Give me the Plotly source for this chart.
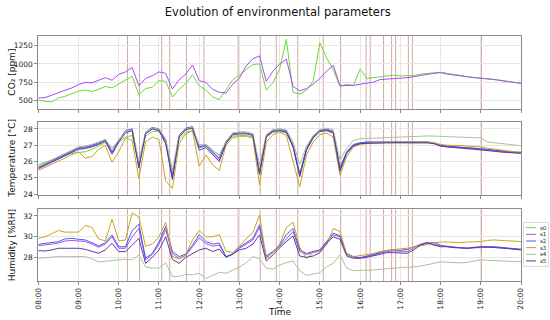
import plotly.graph_objects as go
import pandas as pd

# ---------------- data ----------------
day = "2023-01-01 "
times = pd.date_range(day + "08:00", day + "20:00", freq="10min")

series_names = ["s0", "s1", "s2", "s3", "s4", "s5"]
series_colors = ["#6bd93a", "#a64df0", "#4a5ce6", "#c8a41e", "#a9c29c", "#5a3a9e"]

co2_s0 = [505, 485, 478, 530, 555, 590, 625, 640, 620, 650,
          690, 670, 720, 780, 830, 575, 660, 680, 770, 760,
          545, 650, 730, 850, 700, 640, 545, 510, 640, 780,
          850, 925, 990, 1000, 640, 740, 930, 1340, 610, 585,
          640, 760, 1290, 1080, 920, 690, 720, 700, 930, 800,
          810, 820, 840, 845, 835, 835, 840, 860, 870, 880,
          885, 870, 852, 838, 825, 815, 806, 798, 788, 775,
          760, 745, 733]
co2_s1 = [530, 537, 570, 600, 630, 670, 715, 745, 740, 770,
          810, 775, 855, 890, 950, 700, 800, 835, 890, 870,
          655, 780, 860, 985, 770, 745, 650, 610, 600, 720,
          805, 970, 1070, 1110, 760, 900, 1000, 1065, 690, 630,
          660, 720, 800, 900, 980, 700, 700, 705, 720, 740,
          750, 785, 790, 802, 802, 810, 824, 835, 855, 870,
          880, 860, 845, 830, 818, 810, 802, 795, 785, 770,
          755, 740, 732]

temp_s0 = [25.8, 25.95, 26.1, 26.25, 26.4, 26.5, 26.55, 26.6, 26.75, 26.95,
           27.15, 26.85, 27.15, 27.5, 27.6, 25.85, 27.55, 27.85, 27.85, 27.2,
           25.25, 27.35, 27.8, 27.9, 27.0, 27.05, 26.7, 26.35, 27.2, 27.55,
           27.6, 27.6, 27.5, 25.45, 27.5, 27.8, 27.85, 27.75, 26.9, 25.3,
           26.7, 27.45, 27.85, 27.9, 27.75, 25.7, 26.55, 27.0, 27.12, 27.15,
           27.15, 27.15, 27.15, 27.15, 27.15, 27.15, 27.15, 27.15, 27.15, 27.1,
           26.98, 26.92, 26.9, 26.88, 26.85, 26.82, 26.78, 26.72, 26.68, 26.62,
           26.58, 26.56, 26.55]
temp_s1 = [25.6, 25.8, 26.0, 26.2, 26.4, 26.6, 26.8, 26.85, 26.95, 27.1,
           27.3, 26.55, 27.3, 27.9, 28.0, 25.75, 27.75, 28.05, 27.95, 27.25,
           25.05, 27.55, 28.0, 28.1, 26.85, 26.95, 26.55, 26.1, 27.15, 27.7,
           27.75, 27.75, 27.65, 25.25, 27.55, 27.9, 27.95, 27.85, 26.95, 25.15,
           26.75, 27.5, 27.9, 27.95, 27.8, 25.5, 26.55, 27.0, 27.12, 27.18,
           27.18, 27.18, 27.18, 27.18, 27.18, 27.18, 27.18, 27.18, 27.18, 27.12,
           26.95, 26.9, 26.88, 26.85, 26.82, 26.8, 26.75, 26.7, 26.65, 26.6,
           26.57, 26.55, 26.53]
temp_s2 = [25.65, 25.85, 26.05, 26.25, 26.45, 26.65, 26.85, 26.9, 27.0, 27.15,
           27.35, 26.6, 27.3, 27.85, 28.0, 25.7, 27.8, 28.1, 28.0, 27.3,
           25.0, 27.6, 28.05, 28.15, 26.9, 27.0, 26.6, 26.2, 27.2, 27.75,
           27.8, 27.8, 27.7, 25.3, 27.6, 27.95, 28.0, 27.9, 27.0, 25.2,
           26.8, 27.55, 27.95, 28.0, 27.85, 25.6, 26.6, 27.05, 27.15, 27.2,
           27.2, 27.2, 27.2, 27.2, 27.2, 27.2, 27.2, 27.2, 27.2, 27.15,
           27.0, 26.95, 26.92, 26.9, 26.88, 26.85, 26.8, 26.75, 26.7, 26.65,
           26.6, 26.58, 26.55]
temp_s3 = [25.45, 25.65, 25.85, 26.05, 26.25, 26.45, 26.6, 26.2, 26.3, 26.75,
           27.0, 25.95, 26.6, 27.45, 27.3, 24.95, 27.2, 27.5, 27.35, 24.8,
           24.35, 27.1, 27.7, 27.9, 25.7, 26.4, 25.8, 25.45, 27.0, 27.45,
           27.55, 27.55, 27.45, 24.55, 27.2, 27.65, 27.8, 27.6, 26.0, 24.45,
           26.4, 27.2, 27.65, 27.75, 27.5, 25.15, 26.3, 26.9, 27.05, 27.1,
           27.15, 27.15, 27.15, 27.18, 27.2, 27.2, 27.22, 27.22, 27.2, 27.15,
           27.05, 27.0, 27.0, 26.98, 26.95, 26.92, 26.9, 26.82, 26.75, 26.7,
           26.65, 26.6, 26.58]
temp_s4 = [25.7, 25.9, 26.1, 26.3, 26.5, 26.7, 26.9, 26.95, 27.05, 27.2,
           27.35, 26.8, 27.35, 27.85, 27.95, 26.0, 27.8, 28.05, 28.0, 27.4,
           25.5, 27.6, 28.0, 28.1, 27.0, 27.05, 26.7, 26.4, 27.25, 27.75,
           27.8, 27.8, 27.7, 25.8, 27.65, 27.95, 28.0, 27.95, 27.2, 25.8,
           26.95, 27.6, 27.95, 28.05, 27.95, 26.1, 26.8, 27.3, 27.4, 27.42,
           27.45, 27.47, 27.48, 27.5, 27.5, 27.52, 27.55, 27.57, 27.57, 27.56,
           27.55, 27.53, 27.52, 27.5, 27.5, 27.48, 27.45, 27.2, 27.15, 27.1,
           27.05, 27.0, 26.97]
temp_s5 = [25.55, 25.75, 25.95, 26.15, 26.35, 26.55, 26.75, 26.8, 26.9, 27.05,
           27.25, 26.45, 27.2, 27.75, 27.9, 25.6, 27.7, 28.0, 27.9, 27.1,
           24.9, 27.5, 27.95, 28.05, 26.7, 26.85, 26.45, 26.0, 27.1, 27.65,
           27.7, 27.7, 27.6, 25.2, 27.5, 27.85, 27.9, 27.8, 26.9, 25.07,
           26.7, 27.45, 27.85, 27.9, 27.75, 25.4, 26.5, 26.95, 27.1, 27.12,
           27.15, 27.15, 27.15, 27.15, 27.15, 27.15, 27.15, 27.15, 27.15, 27.1,
           26.95, 26.9, 26.85, 26.8, 26.78, 26.75, 26.72, 26.68, 26.63, 26.58,
           26.54, 26.52, 26.5]

hum_s1 = [29.15, 29.2, 29.3, 29.4, 29.6, 29.65, 29.6, 29.55, 29.3, 29.0,
          29.3, 30.0, 28.9, 28.9, 30.0, 30.8, 27.8, 28.3, 29.3, 30.7,
          28.4, 27.9, 28.2, 29.0, 29.9, 29.35, 29.1, 29.2, 28.1, 28.3,
          28.9, 29.3, 29.7, 30.9, 28.0, 28.5, 29.1, 29.8, 30.5, 28.6,
          28.3, 28.5, 28.7, 29.5, 30.2, 30.0, 28.3, 28.05, 28.0, 28.1,
          28.25, 28.4, 28.6, 28.65, 28.6, 28.6, 28.9, 29.3, 29.45, 29.3,
          29.1, 29.1, 29.0, 28.95, 28.92, 28.95, 29.0, 29.0, 29.0, 28.95,
          28.9, 28.85, 28.8]
hum_s2 = [29.28, 29.38, 29.44, 29.54, 29.8, 29.85, 29.76, 29.7, 29.44, 29.12,
          29.44, 30.18, 29.05, 29.05, 30.6, 31.2, 27.95, 28.4, 29.5, 31.0,
          28.6, 28.1, 28.35, 29.2, 30.2, 29.55, 29.3, 29.4, 28.1, 28.35,
          29.0, 29.4, 29.85, 31.15, 28.15, 28.6, 29.2, 30.2, 30.8, 28.75,
          28.4, 28.6, 28.75, 29.55, 30.35, 30.1, 28.4, 28.1, 28.0, 28.15,
          28.3, 28.5, 28.7, 28.75, 28.7, 28.8, 29.05, 29.2, 29.38, 29.45,
          29.2, 29.05, 29.0, 28.9, 28.9, 29.0, 29.05, 29.05, 29.05, 29.0,
          28.93, 28.87, 28.8]
hum_s3 = [29.85, 30.0, 30.3, 30.6, 30.45, 30.45, 30.45, 31.1, 30.9, 29.8,
          29.6, 31.7, 29.6, 29.7, 32.3, 31.9, 29.1, 29.3, 30.0, 31.4,
          28.1, 27.9, 28.3, 29.7, 30.6, 30.0, 30.0, 30.2, 28.6, 28.5,
          29.1, 29.8, 30.4, 32.1, 27.9, 28.5, 29.3, 30.9, 31.4, 29.0,
          27.9, 28.5, 28.6, 29.2, 30.8, 30.5, 28.3, 28.1, 28.2, 28.3,
          28.4, 28.6, 28.7, 28.8, 28.85, 28.9, 29.0, 29.1, 29.25, 29.4,
          29.5, 29.5, 29.45, 29.45, 29.5, 29.5, 29.55, 29.65, 29.7, 29.65,
          29.6, 29.55, 29.55]
hum_s4 = [27.94, 28.0, 28.05, 28.1, 28.1, 28.1, 28.1, 28.1, 27.9, 27.6,
          27.65, 27.75, 27.8, 27.85, 27.8, 28.25, 27.1, 27.0, 27.0, 27.5,
          26.2, 26.2, 26.4, 26.35, 26.5, 26.0, 26.3, 26.6, 26.5, 26.8,
          27.1, 27.5, 28.1, 27.9, 27.0, 26.9, 27.3, 27.52, 27.68, 26.75,
          26.3, 26.43, 26.56, 27.14, 27.45, 28.26, 26.98, 26.75, 26.75, 26.78,
          26.82, 26.88, 26.95, 27.0, 27.05, 27.08, 27.1, 27.2, 27.3, 27.45,
          27.6, 27.55, 27.5, 27.5, 27.55, 27.65, 27.8, 27.75, 27.72, 27.7,
          27.68, 27.65, 27.6]
hum_s5 = [28.67, 28.64, 28.74, 28.9, 28.9, 28.9, 28.9, 28.8, 28.58, 28.42,
          28.74, 29.38, 28.58, 28.58, 29.2, 29.85, 27.45, 28.03, 28.74, 30.0,
          27.84, 27.45, 28.03, 28.35, 28.74, 28.9, 28.58, 28.83, 28.03, 28.35,
          28.74, 28.9, 29.3, 30.18, 27.68, 28.26, 28.96, 29.54, 30.08, 28.16,
          28.03, 28.16, 28.48, 29.38, 30.0, 29.76, 28.16, 27.94, 27.94, 28.03,
          28.16, 28.32, 28.48, 28.48, 28.42, 28.42, 28.74, 29.2, 29.44, 29.2,
          29.05, 29.05, 28.96, 28.9, 28.9, 28.96, 29.05, 29.02, 28.99, 28.93,
          28.87, 28.8, 28.74]

event_times = ["10:13", "10:31", "11:04", "11:16", "11:41", "12:07", "12:58",
               "13:31", "13:55", "14:27", "15:05", "15:31", "16:09", "16:15",
               "16:35", "16:47", "16:53", "17:12", "17:18", "19:01"]

co2_ticks = [500, 750, 1000, 1250]
temp_ticks = [24, 25, 26, 27, 28]
hum_ticks = [28, 30, 32]

for arr in [co2_s0, co2_s1, temp_s0, temp_s1, temp_s2, temp_s3, temp_s4, temp_s5,
            hum_s1, hum_s2, hum_s3, hum_s4, hum_s5]:
    assert len(arr) == len(times), len(arr)

# ---------------- figure ----------------
W, H = 550, 320
FONT = "DejaVu Sans"
col = dict(zip(series_names, series_colors))

fig = go.Figure()

def add(y, name, axis):
    fig.add_trace(go.Scatter(x=times, y=y, mode="lines", name=name,
                             line=dict(color=col[name], width=1),
                             xaxis="x" + axis, yaxis="y" + axis, showlegend=False))

add(co2_s0, "s0", "")
add(co2_s1, "s1", "")
for nm, arr in zip(series_names, [temp_s0, temp_s1, temp_s2, temp_s3, temp_s4, temp_s5]):
    add(arr, nm, "2")
for nm, arr in zip(["s1", "s2", "s3", "s4", "s5"], [hum_s1, hum_s2, hum_s3, hum_s4, hum_s5]):
    add(arr, nm, "3")

x_left, x_right = 38.3, 521.0
dom_x = [x_left / W, x_right / W]
panels = [(36.0, 109.3), (122.3, 195.0), (209.3, 281.0)]
doms_y = [[1 - b / H, 1 - t / H] for (t, b) in panels]

grid_c = "#ebe2e2"
frame_c = "#8a8a8a"
tick_font = dict(family=FONT, size=7.5, color="#222")

xr = [pd.Timestamp(day + "08:00"), pd.Timestamp(day + "20:00")]
common_x = dict(domain=dom_x, range=xr, type="date", dtick=3600000,
                tick0=day + "08:00", tickformat="%H:%M", showgrid=True,
                gridcolor=grid_c, gridwidth=1, showline=True, linecolor=frame_c,
                linewidth=1, mirror=True, ticks="outside", ticklen=3,
                tickcolor=frame_c, zeroline=False, tickfont=tick_font, automargin=False)
common_y = dict(showgrid=True, gridcolor=grid_c, gridwidth=1, showline=True,
                linecolor=frame_c, linewidth=1, mirror=True, ticks="outside",
                ticklen=3, tickcolor=frame_c, zeroline=False, tickfont=tick_font,
                automargin=False)

layout = dict(
    width=W, height=H, margin=dict(l=0, r=0, t=0, b=0, autoexpand=False),
    paper_bgcolor="white", plot_bgcolor="white",
    font=dict(family=FONT, color="#111"),
    showlegend=False,
    title=dict(text="Evolution of environmental parameters", x=0.505, xanchor="center",
               y=1 - 12 / H, yanchor="middle", automargin=False,
               font=dict(family=FONT, size=11.5, color="#111")),
    xaxis=dict(common_x, anchor="y", showticklabels=False),
    xaxis2=dict(common_x, anchor="y2", matches="x", showticklabels=False),
    xaxis3=dict(common_x, anchor="y3", matches="x", showticklabels=True, tickangle=-90),
    yaxis=dict(common_y, domain=doms_y[0], anchor="x", range=[376, 1383], tickvals=co2_ticks),
    yaxis2=dict(common_y, domain=doms_y[1], anchor="x2", range=[23.94, 28.41], tickvals=temp_ticks),
    yaxis3=dict(common_y, domain=doms_y[2], anchor="x3", range=[25.76, 32.64], tickvals=hum_ticks),
)
fig.update_layout(**layout)

# event markers
shapes = []
for ax in ["", "2", "3"]:
    for t in event_times:
        ts = pd.Timestamp(day + t)
        shapes.append(dict(type="line", xref="x" + ax, yref=("y" + ax + " domain"),
                           x0=ts, x1=ts, y0=0, y1=1, layer="below",
                           line=dict(color="rgba(190,140,130,0.75)", width=1)))

# axis titles
ann = []
ylabels = ["CO₂ [ppm]", "Temperature [°C]", "Humidity [%RH]"]
for lab, (t, b) in zip(ylabels, panels):
    ann.append(dict(text=lab, x=12 / W, y=1 - (t + b) / 2 / H, xref="paper", yref="paper",
                    textangle=-90, showarrow=False, xanchor="center", yanchor="middle",
                    font=dict(family=FONT, size=9, color="#111")))
ann.append(dict(text="Time", x=280 / W, y=1 - 312 / H, xref="paper", yref="paper",
                showarrow=False, xanchor="center", yanchor="middle",
                font=dict(family=FONT, size=9, color="#111")))

# custom compact legend
lx0, lx1, ly0, ly1 = 523.5, 548.5, 222.5, 266.5
shapes.append(dict(type="rect", xref="paper", yref="paper",
                   x0=lx0 / W, x1=lx1 / W, y0=1 - ly1 / H, y1=1 - ly0 / H,
                   line=dict(color="#d0d0d0", width=0.8), fillcolor="rgba(255,255,255,0.85)"))
for k, nm in enumerate(series_names):
    yy = 227.7 + k * 6.65
    shapes.append(dict(type="line", xref="paper", yref="paper",
                       x0=526 / W, x1=536 / W, y0=1 - yy / H, y1=1 - yy / H,
                       line=dict(color=col[nm], width=1)))
    ann.append(dict(text=nm, x=538 / W, y=1 - yy / H, xref="paper", yref="paper",
                    showarrow=False, xanchor="left", yanchor="middle",
                    font=dict(family=FONT, size=5.5, color="#222")))

fig.update_layout(shapes=shapes, annotations=ann)
fig.write_html("out.html", config={"displayModeBar": False},
               post_script="document.body.style.margin='0px';document.body.style.overflow='hidden';")
